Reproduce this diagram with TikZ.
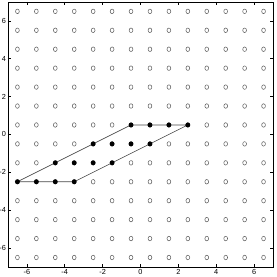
\documentclass[tikz,border=0pt]{standalone}
\usepackage{fontspec}
\setmainfont{Liberation Sans}
\usetikzlibrary{calc}
\usepackage{xcolor}
\definecolor{latgray}{RGB}{95,95,95}
\definecolor{edgegray}{RGB}{70,70,70}

\begin{document}
\begin{tikzpicture}[x=0.5cm,y=0.5cm,font=\fontsize{5.5}{6}\selectfont]
    \useasboundingbox (-7.42,-7.53) rectangle (7.21,7.1);

    % lattice of open points
    \foreach \i in {-6.5,-5.5,...,6.5}
      \foreach \j in {-6.5,-5.5,...,6.5}
        \draw[latgray,line width=0.4pt] (\i,\j) ellipse (0.1 and 0.12);

    % parallelogram corners
    \coordinate (sw) at (-6.5,-2.5);
    \coordinate (se) at (-3.5,-2.5);
    \coordinate (ne) at (2.5,0.5);
    \coordinate (nw) at (-0.5,0.5);
    \draw[edgegray,line width=0.5pt] (sw) -- (se) -- (ne) -- (nw) -- cycle;

    % filled points, four per row
    \foreach \r in {0,...,3}
      \foreach \k in {0,...,3}
        \fill (-6.5+2*\r+\k,-2.5+\r) circle (0.13);

    % axes box + ticks
    \draw[line width=0.5pt] (-7,-7) rectangle (7,7);
    \foreach \t in {-6,-4,...,6} {
      \draw[line width=0.4pt] (\t,-7) -- (\t,-6.85);
      \draw[line width=0.4pt] (\t,7) -- (\t,6.85);
      \draw[line width=0.4pt] (-7,\t) -- (-6.85,\t);
      \draw[line width=0.4pt] (7,\t) -- (6.85,\t);
      \node[anchor=north,inner sep=1pt] at (\t,-7.05) {\t};
      \node[anchor=east,inner sep=1pt] at (-7.02,\t) {\t};
    }
  \end{tikzpicture}
\end{document}
